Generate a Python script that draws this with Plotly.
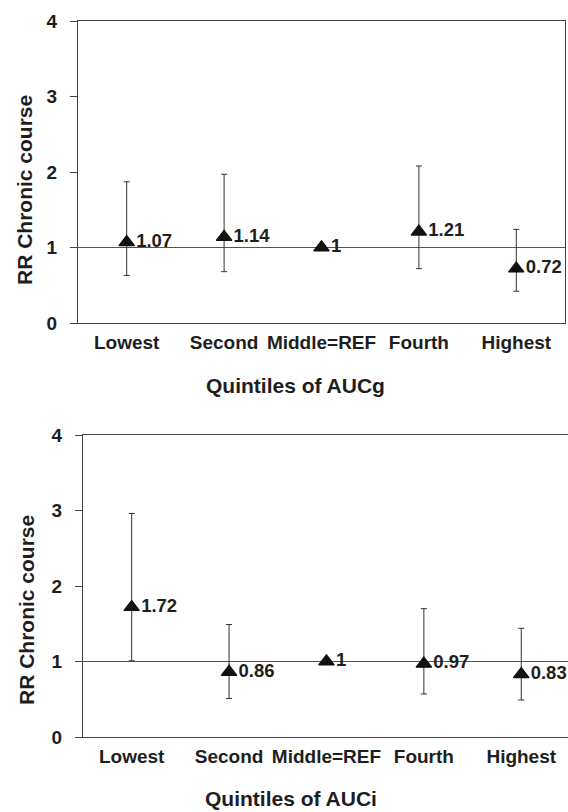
import plotly.graph_objects as go

W, H = 568, 812

categories = ["Lowest", "Second", "Middle=REF", "Fourth", "Highest"]
tick_vals_y = [0, 1, 2, 3, 4]

aucg_rr = [1.07, 1.14, 1.00, 1.21, 0.72]
aucg_lo = [0.63, 0.68, 1.00, 0.72, 0.42]
aucg_hi = [1.87, 1.97, 1.00, 2.08, 1.24]

auci_rr = [1.72, 0.86, 1.00, 0.97, 0.83]
auci_lo = [1.01, 0.51, 1.00, 0.57, 0.49]
auci_hi = [2.96, 1.49, 1.00, 1.70, 1.44]

x_titles = ["Quintiles of AUCg", "Quintiles of AUCi"]
y_title = "RR Chronic course"

FONT = "Liberation Sans, Arial, sans-serif"
TXT = "#1e1e1e"
AX = "#444444"

fig = go.Figure()


def add_panel(rr, lo, hi, xa, ya):
    fig.add_trace(go.Scatter(
        x=list(range(len(categories))), y=rr,
        xaxis=xa, yaxis=ya,
        mode="markers+text",
        marker=dict(symbol="triangle-up", size=13.5, color="#111111",
                    line=dict(color="#111111", width=1.2)),
        text=[f"{v:g}" for v in rr],
        textposition="middle right",
        textfont=dict(family=FONT, size=18.5, color=TXT, weight="bold"),
        error_y=dict(type="data", symmetric=False,
                     array=[h - v for h, v in zip(hi, rr)],
                     arrayminus=[v - l for v, l in zip(rr, lo)],
                     color="#333333", thickness=1, width=3),
        showlegend=False, hoverinfo="skip",
    ))


add_panel(aucg_rr, aucg_lo, aucg_hi, "x", "y")
add_panel(auci_rr, auci_lo, auci_hi, "x2", "y2")

# reference line at RR = 1
for xr, yr in (("x domain", "y"), ("x2 domain", "y2")):
    fig.add_shape(type="line", xref=xr, yref=yr, x0=0, x1=1, y0=1, y1=1,
                  line=dict(color="#555555", width=1.2), layer="below")

tickfont = dict(family=FONT, size=19, color=TXT, weight="bold")


def xaxis_cfg(domain, rng):
    return dict(domain=domain, range=rng, tickmode="array",
                tickvals=list(range(len(categories))), ticktext=categories,
                tickfont=tickfont, ticks="", showgrid=False, zeroline=False,
                showline=True, linecolor=AX, linewidth=1.3, mirror=True,
                automargin=False, fixedrange=True, ticklabelstandoff=2)


def yaxis_cfg(domain, mirror):
    return dict(domain=domain, range=[0, 4], tickmode="array",
                tickvals=tick_vals_y, tickfont=tickfont,
                ticks="outside", ticklen=7, tickcolor=AX, tickwidth=1.3,
                showgrid=False, zeroline=False, showline=True, linecolor=AX,
                linewidth=1.3, mirror=mirror, automargin=False,
                fixedrange=True, ticklabelstandoff=9)


fig.update_layout(
    width=W, height=H,
    margin=dict(l=0, r=0, t=0, b=0),
    paper_bgcolor="white", plot_bgcolor="white",
    xaxis=xaxis_cfg([78 / W, 565 / W], [-0.5, 4.5]),
    yaxis=yaxis_cfg([1 - 323 / H, 1 - 21 / H], True),
    xaxis2=xaxis_cfg([83 / W, 1.0], [-0.5, 4.48]),
    yaxis2=yaxis_cfg([1 - 737 / H, 1 - 435 / H], False),
)
fig.update_layout(yaxis2=dict(anchor="x2"), xaxis2=dict(anchor="y2"))

titlefont = dict(family=FONT, size=21, color=TXT, weight="bold")
for (tx, ty), t in zip([(295, 385), (291, 798)], x_titles):
    fig.add_annotation(text=t, xref="paper", yref="paper", x=tx / W,
                       y=1 - ty / H, showarrow=False, font=titlefont,
                       xanchor="center", yanchor="middle")
for (tx, ty) in [(24, 190), (26, 610)]:
    fig.add_annotation(text=y_title, xref="paper", yref="paper", x=tx / W,
                       y=1 - ty / H, showarrow=False, font=titlefont,
                       textangle=-90, xanchor="center", yanchor="middle")

fig.write_html(
    "out.html",
    config={"displayModeBar": False, "staticPlot": False},
    post_script="document.body.style.margin='0';"
                "document.body.style.overflow='hidden';",
)
